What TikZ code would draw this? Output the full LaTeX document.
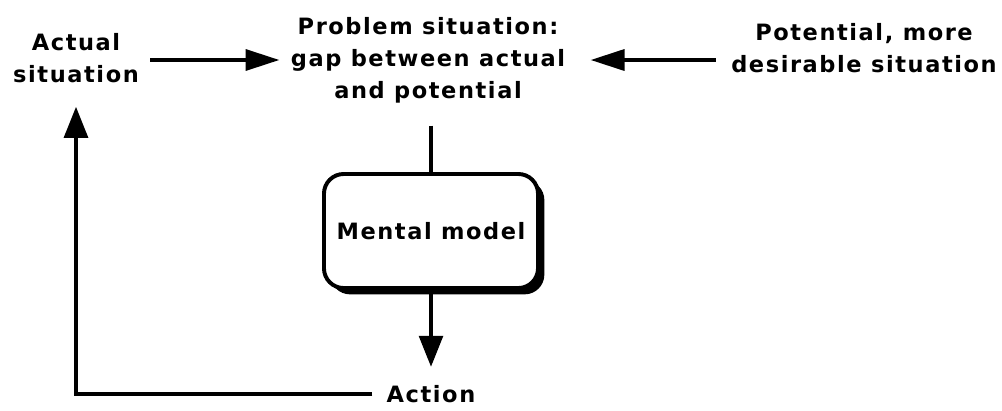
\documentclass[tikz,border=0pt]{standalone}
\usepackage{fontspec}
\setmainfont{DejaVu Sans}[LetterSpace=7]
\usepackage{tikz}
\usetikzlibrary{arrows.meta,positioning,calc,shadows}

\begin{document}
\begin{tikzpicture}[
    x=0.025cm, y=-0.025cm,
    txt/.style={align=center, font=\fontsize{16}{22.7}\selectfont\bfseries, inner sep=0pt},
    box/.style={draw, line width=2.8pt, rounded corners=14pt, minimum width=5.35cm, minimum height=2.85cm, align=center, font=\fontsize{16}{22.7}\selectfont\bfseries, fill=white,
        drop shadow={shadow xshift=4.5pt, shadow yshift=-4.5pt, fill=black, opacity=1}},
    arr/.style={-{Triangle[length=22pt, width=17pt]}, line width=2.2pt},
    harr/.style={-{Triangle[length=24pt, width=15pt]}, line width=2.2pt},
    ln/.style={line width=2.2pt}
]
\useasboundingbox (0,0) rectangle (1002,410);
\node[txt] (actual) at (76,58) {Actual\\situation};
\node[txt] (problem) at (428,60) {Problem situation:\\gap between actual\\and potential};
\node[txt] (potential) at (864,48) {Potential, more\\desirable situation};
\node[box] (model) at (431,231) {Mental model};
\node[txt] (action) at (431,394) {Action};

\draw[harr, shorten <=8pt, shorten >=8pt] (actual.east |- problem.west) -- (problem.west);
\draw[harr, shorten <=11pt, shorten >=18pt] (potential.west |- problem.east) -- (problem.east);
\draw[ln, shorten <=16pt] (problem.south -| model.north) -- (model.north);
\draw[arr, shorten >=13pt] (model.south) -- (model.south |- action.north);
\draw[arr, shorten <=10pt, shorten >=17pt] (action.west) -| (actual.south);
\end{tikzpicture}
\end{document}
